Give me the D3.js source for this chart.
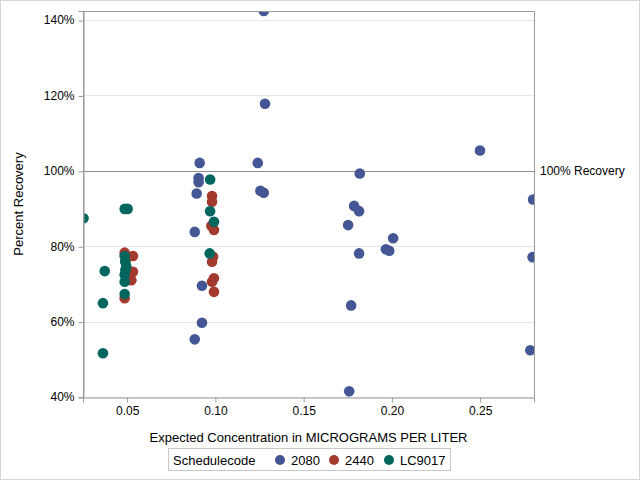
<!DOCTYPE html>
<html><head><meta charset="utf-8">
<script src="https://cdn.jsdelivr.net/npm/d3@7"></script>
<style>body{margin:0;background:#fff}svg{display:block}text{font-family:"Liberation Sans",Arial,sans-serif;fill:#000}</style>
</head><body>
<svg id="c" width="640" height="480"></svg>
<script>
const seriesNames = ["2080", "2440", "LC9017"];
const seriesColors = ["#445694", "#A23A2E", "#01665E"];
const x2080 = [0.0911,0.0905,0.0905,0.0894,0.0883,0.0924,0.0924,0.0883,0.1240,0.1255,0.1274,0.1274,0.1281,0.2499,0.1818,0.2800,0.1786,0.1814,0.1752,0.2007,0.1966,0.1985,0.1814,0.2797,0.1769,0.2784,0.1758];
const y2080 = [102.1,98.1,97.0,94.0,83.8,69.5,59.7,55.3,102.1,94.7,94.2,142.4,117.8,105.4,99.3,92.4,90.7,89.3,85.6,82.1,79.2,78.8,78.1,77.1,64.3,52.4,41.5];
const x2440 = [0.0486,0.0533,0.0490,0.0533,0.0524,0.0486,0.0981,0.0981,0.0977,0.0992,0.0987,0.0981,0.0992,0.0981,0.0992];
const y2440 = [78.3,77.4,76.0,73.2,71.0,66.2,93.3,91.8,85.4,84.3,77.2,75.9,71.5,70.6,67.9];
const xLC9017 = [0.0253,0.0486,0.0503,0.0373,0.0363,0.0363,0.0486,0.0490,0.0495,0.0490,0.0486,0.0486,0.0486,0.0970,0.0970,0.0992,0.0968];
const yLC9017 = [87.4,89.9,89.9,73.4,64.9,51.6,77.4,75.8,74.7,73.7,72.4,70.6,67.3,97.7,89.3,86.5,78.1];
const xTicks = [0.05,0.10,0.15,0.20,0.25];
const yTicks = [40,60,80,100,120,140];
const refValue = 100;
const refLabel = "100% Recovery";
const xTitle = "Expected Concentration in MICROGRAMS PER LITER";
const yTitle = "Percent Recovery";
const legendTitle = "Schedulecode";

const svg = d3.select("#c");
const L = 83, R = 534, T = 11, B = 397;
const x = d3.scaleLinear().domain([0.025, 0.2805]).range([L, R]);
const y = d3.scaleLinear().domain([40, 142.4]).range([B, T]);

// outer border
svg.append("rect").attr("x",0.5).attr("y",0.5).attr("width",639).attr("height",479)
  .attr("fill","none").attr("stroke","#d4d4d4");

// grid
svg.append("g").selectAll("line").data(yTicks).join("line")
  .attr("x1",L).attr("x2",R).attr("y1",d=>Math.round(y(d))+0.5).attr("y2",d=>Math.round(y(d))+0.5)
  .attr("stroke","#e6e6e6");

// reference line
svg.append("line").attr("x1",L).attr("x2",R)
  .attr("y1",Math.round(y(refValue))+0.5).attr("y2",Math.round(y(refValue))+0.5)
  .attr("stroke","#8c8c8c");
svg.append("text").attr("x",540).attr("y",y(refValue)).attr("dy","0.35em")
  .attr("font-size",12).text(refLabel);

// points
svg.append("defs").append("clipPath").attr("id","clip").append("rect")
  .attr("x",L).attr("y",T).attr("width",R-L).attr("height",B-T);
const gp = svg.append("g").attr("clip-path","url(#clip)");
const sets = [[x2080,y2080],[x2440,y2440],[xLC9017,yLC9017]];
sets.forEach((s,i)=>{
  const pts = s[0].map((v,j)=>[v,s[1][j]]);
  gp.append("g").selectAll("circle").data(pts).join("circle")
    .attr("cx",d=>x(d[0])).attr("cy",d=>y(d[1])).attr("r",5.3)
    .attr("fill",seriesColors[i]);
});

// frame
svg.append("path").attr("d",`M${L+0.5},${B+0.5}V${T+0.5}H${R+0.5}V${B+0.5}`)
  .attr("fill","none").attr("stroke","#9a9a9a");

// axes
const xa = svg.append("g").attr("transform",`translate(0,${B+0.5})`)
  .call(d3.axisBottom(x).tickValues(xTicks).tickFormat(d3.format(".2f")).tickSize(5).tickPadding(4));
const ya = svg.append("g").attr("transform",`translate(${L+0.5},0)`)
  .call(d3.axisLeft(y).tickValues(yTicks).tickFormat(d=>d+"%").tickSize(5).tickPadding(4));
[xa,ya].forEach(a=>{
  a.selectAll(".domain").attr("stroke","#9a9a9a");
  a.selectAll(".tick line").attr("stroke","#9a9a9a");
  a.selectAll("text").attr("font-size",12).attr("font-family",'"Liberation Sans",Arial,sans-serif').attr("fill","#000");
});
ya.selectAll(".tick line").attr("transform","translate(0,0.5)");

svg.append("text").attr("x",(L+R)/2).attr("y",442).attr("text-anchor","middle")
  .attr("font-size",13).text(xTitle);
svg.append("text").attr("transform",`translate(23,${(T+B)/2}) rotate(-90)`).attr("text-anchor","middle")
  .attr("font-size",13).text(yTitle);

// legend
const lg = svg.append("g");
lg.append("rect").attr("x",168.5).attr("y",448.5).attr("width",282).attr("height",22)
  .attr("fill","#fff").attr("stroke","#c8c8c8");
lg.append("text").attr("x",173).attr("y",460).attr("dy","0.35em").attr("font-size",13).text(legendTitle);
const lx = [280, 334, 389];
seriesNames.forEach((n,i)=>{
  lg.append("circle").attr("cx",lx[i]).attr("cy",460).attr("r",5).attr("fill",seriesColors[i]);
  lg.append("text").attr("x",lx[i]+11).attr("y",460).attr("dy","0.35em").attr("font-size",13).text(n);
});
</script>
</body></html>
